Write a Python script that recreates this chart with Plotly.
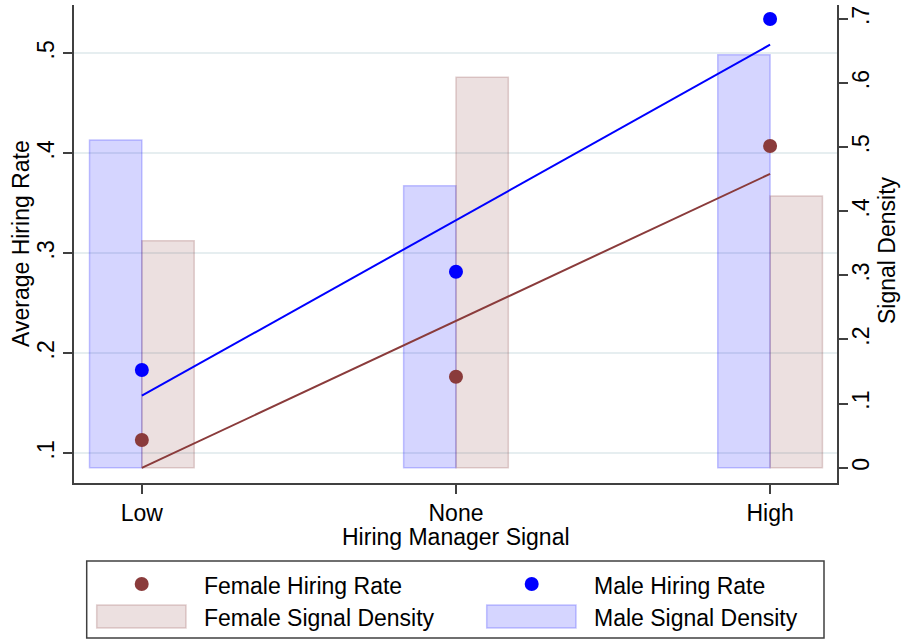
import numpy as np
import plotly.graph_objects as go

# ---- data ----
signal_labels = ["Low", "None", "High"]
signal_pos = [1, 2, 3]
female_rate = [0.1133, 0.1766, 0.4073]
male_rate = [0.1833, 0.2816, 0.5343]
female_density = [0.354, 0.609, 0.424]
male_density = [0.511, 0.440, 0.644]
rate_ticks = [0.1, 0.2, 0.3, 0.4, 0.5]
rate_ticktext = [".1", ".2", ".3", ".4", ".5"]
dens_ticks = [0, 0.1, 0.2, 0.3, 0.4, 0.5, 0.6, 0.7]
dens_ticktext = ["0", ".1", ".2", ".3", ".4", ".5", ".6", ".7"]

FONT = "Liberation Sans, Arial, Helvetica, sans-serif"
FS = 23
FEMALE = "#8a3b3b"
MALE = "#0000ff"
F_FILL = "rgba(128,50,50,0.15)"
F_LINE = "rgba(128,50,50,0.22)"
M_FILL = "rgba(0,0,255,0.165)"
M_LINE = "rgba(0,0,255,0.22)"
AXC = "#404040"

# fitted lines
xs = np.array(signal_pos, dtype=float)
fb = np.polyfit(xs, female_rate, 1)
mb = np.polyfit(xs, male_rate, 1)
xl = np.array([xs.min(), xs.max()])

fig = go.Figure()
bw = 1 / 6
fig.add_trace(go.Bar(x=signal_pos, y=male_density, width=bw, offset=-bw,
                     marker=dict(color=M_FILL, line=dict(color=M_LINE, width=1.5)),
                     name="Male Signal Density", yaxis="y", showlegend=False))
fig.add_trace(go.Bar(x=signal_pos, y=female_density, width=bw, offset=0,
                     marker=dict(color=F_FILL, line=dict(color=F_LINE, width=1.5)),
                     name="Female Signal Density", yaxis="y", showlegend=False))
fig.add_trace(go.Scatter(x=xl, y=np.polyval(mb, xl), mode="lines",
                         line=dict(color=MALE, width=2), yaxis="y2", showlegend=False))
fig.add_trace(go.Scatter(x=xl, y=np.polyval(fb, xl), mode="lines",
                         line=dict(color=FEMALE, width=2), yaxis="y2", showlegend=False))
fig.add_trace(go.Scatter(x=signal_pos, y=male_rate, mode="markers",
                         marker=dict(color=MALE, size=14), name="Male Hiring Rate",
                         yaxis="y2", showlegend=False))
fig.add_trace(go.Scatter(x=signal_pos, y=female_rate, mode="markers",
                         marker=dict(color=FEMALE, size=14), name="Female Hiring Rate",
                         yaxis="y2", showlegend=False))

L, R, T, B = 74, 837, 5, 483
def px(xp):
    return (xp - L) / (R - L)
def py(yp):
    return (B - yp) / (B - T)

shapes = []
annotations = []
# legend box
shapes.append(dict(type="rect", xref="paper", yref="paper",
                   x0=px(86.7), x1=px(824), y0=py(561), y1=py(638),
                   line=dict(color=AXC, width=1.5), fillcolor="white"))
legend_items = [
    ("marker", FEMALE, None, 141.7, 584, "Female Hiring Rate", 201.7, 586),
    ("marker", MALE, None, 531.7, 584, "Male Hiring Rate", 591.7, 586),
    ("swatch", F_FILL, F_LINE, 96.7, 186, "Female Signal Density", 201.7, 618),
    ("swatch", M_FILL, M_LINE, 486.7, 576, "Male Signal Density", 591.7, 618),
]
for kind, c, lc, a, b, text, tx, ty in legend_items:
    if kind == "marker":
        shapes.append(dict(type="circle", xref="paper", yref="paper",
                           xsizemode="pixel", ysizemode="pixel",
                           xanchor=px(a), yanchor=py(b), x0=-7, x1=7, y0=-7, y1=7,
                           fillcolor=c, line=dict(width=0)))
    else:
        shapes.append(dict(type="rect", xref="paper", yref="paper",
                           x0=px(a), x1=px(b), y0=py(628), y1=py(605),
                           fillcolor=c, line=dict(color=lc, width=1.5)))
    annotations.append(dict(text=text, xref="paper", yref="paper", x=px(tx), y=py(ty),
                            xanchor="left", yanchor="middle", showarrow=False,
                            font=dict(family=FONT, size=FS, color="black")))

# axis titles
annotations.append(dict(text="Hiring Manager Signal", xref="paper", yref="paper",
                        x=px(455.5), y=py(537), xanchor="center", yanchor="middle",
                        showarrow=False, font=dict(family=FONT, size=FS, color="black")))
annotations.append(dict(text="Average Hiring Rate", xref="paper", yref="paper",
                        x=px(21), y=py(244), xanchor="center", yanchor="middle",
                        textangle=-90, showarrow=False,
                        font=dict(family=FONT, size=FS, color="black")))
annotations.append(dict(text="Signal Density", xref="paper", yref="paper",
                        x=px(887), y=py(250), xanchor="center", yanchor="middle",
                        textangle=-90, showarrow=False,
                        font=dict(family=FONT, size=FS, color="black")))

axis_common = dict(zeroline=False, showline=True, linecolor=AXC, linewidth=1.5,
                   ticks="outside", ticklen=9, tickwidth=1.5, tickcolor=AXC,
                   automargin=False, tickfont=dict(family=FONT, size=FS, color="black"))

fig.update_layout(
    width=902, height=641,
    margin=dict(l=L, r=902 - R, t=T, b=641 - B, autoexpand=False),
    paper_bgcolor="white", plot_bgcolor="white",
    barmode="overlay",
    font=dict(family=FONT, size=FS, color="black"),
    showlegend=False,
    hovermode=False,
    xaxis=dict(range=[0.784, 3.213], tickvals=signal_pos, ticktext=signal_labels,
               showgrid=False, **axis_common),
    yaxis=dict(range=[-0.0239, 0.7218], side="right", tickvals=dens_ticks,
               ticktext=dens_ticktext, tickangle=-90, showgrid=False,
               ticklabelstandoff=-6, **axis_common),
    yaxis2=dict(range=[0.0703, 0.5483], side="left", overlaying="y", tickvals=rate_ticks,
                ticktext=rate_ticktext, tickangle=-90, showgrid=True,
                gridcolor="#e6eef0", gridwidth=1.5, ticklabelstandoff=0, **axis_common),
    shapes=shapes,
    annotations=annotations,
)

fig.write_html("out.html", config={"displayModeBar": False},
               post_script="document.body.style.margin='0';document.body.style.overflow='hidden';")
